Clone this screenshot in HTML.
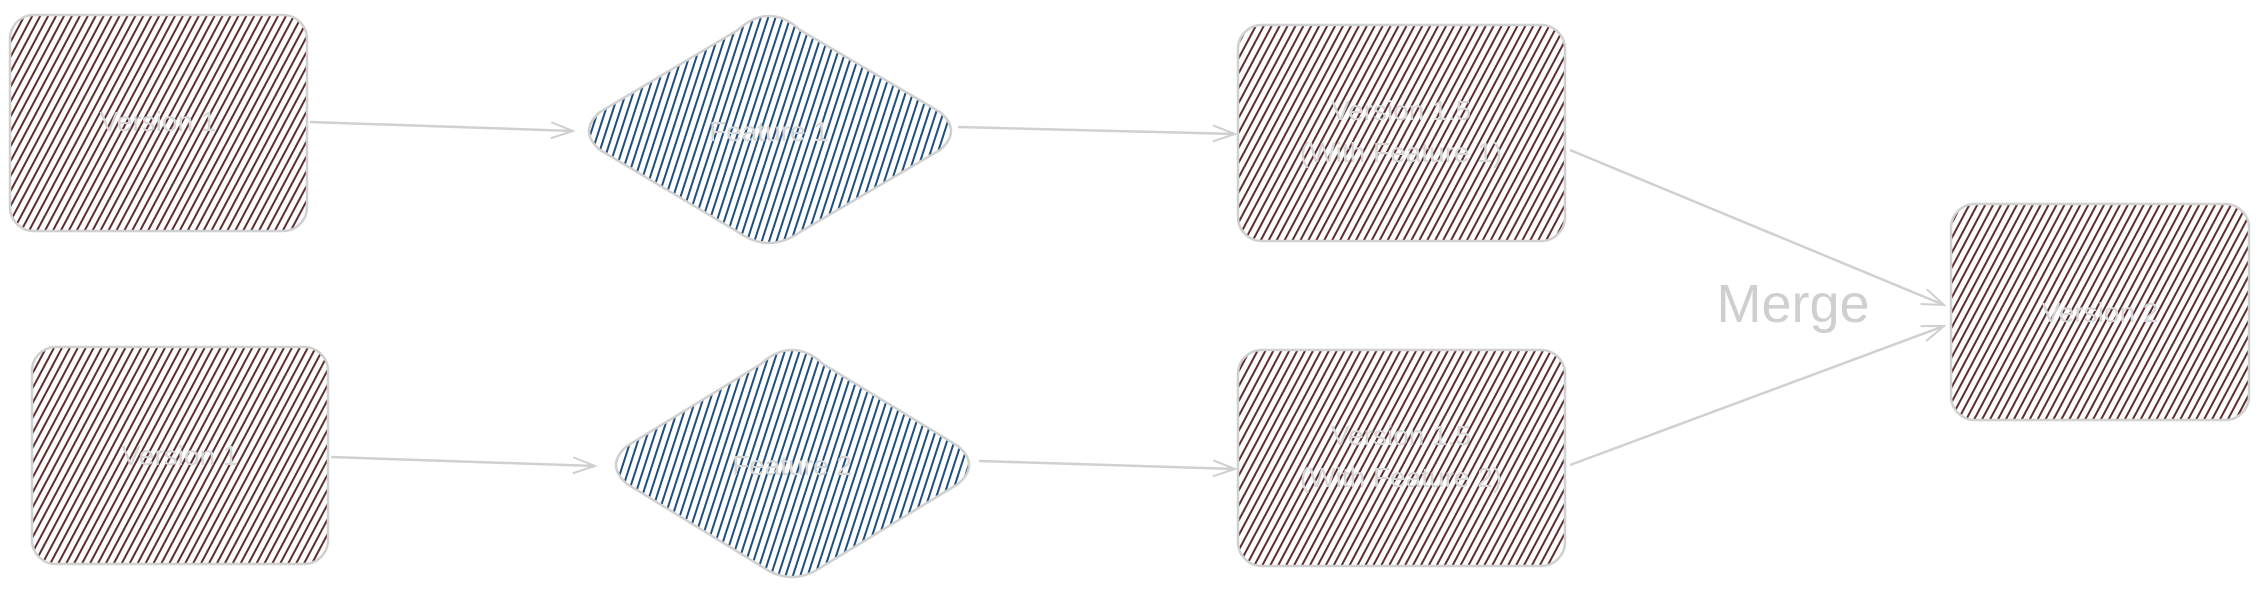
<!DOCTYPE html>
<html><head><meta charset="utf-8"><style>
html,body{margin:0;padding:0;background:#fff;}
svg{display:block;}
text{font-family:"Liberation Sans",sans-serif;fill:#d6d6d6;text-anchor:middle;}
</style></head><body>
<svg width="2258" height="591" viewBox="0 0 2258 591" xmlns="http://www.w3.org/2000/svg">
<defs>
<pattern id="hr" patternUnits="userSpaceOnUse" width="7" height="7" patternTransform="rotate(28)">
<line x1="1" y1="0" x2="1" y2="7" stroke="#5e2e2e" stroke-width="2"/>
</pattern>
<pattern id="hb" patternUnits="userSpaceOnUse" width="7" height="7" patternTransform="rotate(18)">
<line x1="1" y1="0" x2="1" y2="7" stroke="#1f4f7e" stroke-width="2"/>
</pattern>
<marker id="ar" markerWidth="26" markerHeight="20" refX="24" refY="10" orient="auto" markerUnits="userSpaceOnUse">
<path d="M2,2 L24,10 L2,18" fill="none" stroke="#cfcfcf" stroke-width="2"/>
</marker>
</defs>
<g stroke="#d0d0d0" stroke-width="2.5">
<rect x="10" y="15" width="297" height="216" rx="24" fill="url(#hr)"/>
<rect x="32" y="347" width="296" height="217" rx="24" fill="url(#hr)"/>
<rect x="1238" y="25" width="327" height="216" rx="24" fill="url(#hr)"/>
<rect x="1238" y="350" width="327" height="216" rx="24" fill="url(#hr)"/>
<rect x="1951" y="204" width="298" height="216" rx="24" fill="url(#hr)"/>
<path d="M769,16 Q785,16 800,30 L940,112 Q962,131 940,150 L800,232 Q769,254 738,232 L600,150 Q578,131 600,112 L738,30 Q753,16 769,16Z" fill="url(#hb)"/>
<path d="M792,350 Q808,350 823,364 L958,446 Q980,465 958,484 L823,566 Q792,588 761,566 L627,484 Q605,465 627,446 L761,364 Q776,350 792,350Z" fill="url(#hb)"/>
</g>
<g stroke="#d0d0d0" stroke-width="2.5" fill="none" marker-end="url(#ar)">
<line x1="310" y1="122" x2="573" y2="131"/>
<line x1="958" y1="127" x2="1235" y2="134"/>
<line x1="331" y1="457" x2="595" y2="466"/>
<line x1="979" y1="461" x2="1235" y2="469"/>
<line x1="1570" y1="150" x2="1944" y2="305"/>
<line x1="1570" y1="465" x2="1944" y2="326"/>
</g>
<g font-size="28">
<text x="158" y="131">Version 1</text>
<text x="180" y="465">Version 1</text>
<text x="769" y="141">Feature 1</text>
<text x="792" y="475">Feature 2</text>
<text x="1401" y="120">Version 1.5</text>
<text x="1401" y="162">(With Feature 1)</text>
<text x="1401" y="445">Version 1.5</text>
<text x="1401" y="487">(With Feature 2)</text>
<text x="2100" y="322">Version 2</text>
</g>
<text x="1793" y="322" font-size="54" style="fill:#cfcfcf">Merge</text>
</svg>
</body></html>
